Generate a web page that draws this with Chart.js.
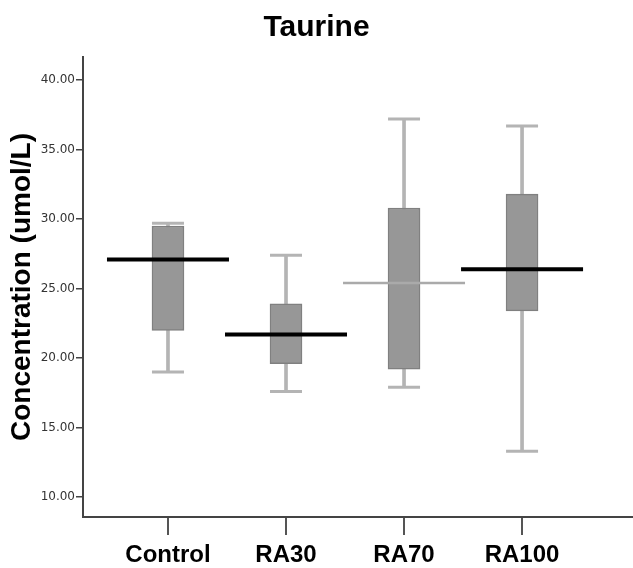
<!DOCTYPE html>
<html>
<head>
<meta charset="utf-8">
<script src="https://cdn.jsdelivr.net/npm/chart.js@4"></script>
<style>
  body { margin: 0; background: #fff; }
</style>
</head>
<body>
<canvas id="myChart" width="633" height="568"></canvas>
<script>
// categorias e valores
var categories = ['Control', 'RA30', 'RA70', 'RA100'];
var whiskerLow = [19.0, 17.6, 17.9, 13.3];
var q1 = [22.0, 19.6, 19.2, 23.4];
var median = [27.1, 21.7, 25.4, 26.4];
var q3 = [29.5, 23.9, 30.8, 31.8];
var whiskerHigh = [29.7, 27.4, 37.2, 36.7];
var yTicks = [10, 15, 20, 25, 30, 35, 40];

var medianColors = ['#000000', '#000000', '#aaaaaa', '#000000'];
var medianWidths = [4, 4, 2.5, 4];

var idx = categories.map(function (c, i) { return i; });

var ctx = document.getElementById('myChart').getContext('2d');

var myChart = new Chart(ctx, {
  data: {
    datasets: [
      {
        // medianas
        type: 'scatter',
        data: idx.map(function (i) { return { x: i, y: median[i] }; }),
        pointStyle: 'line',
        radius: 61,
        borderColor: medianColors,
        borderWidth: medianWidths,
        order: 0
      },
      {
        // caixas (q1 - q3)
        type: 'bar',
        data: idx.map(function (i) { return { x: i, y: [q1[i], q3[i]] }; }),
        backgroundColor: '#979797',
        borderColor: '#808080',
        borderWidth: 1.5,
        borderSkipped: false,
        barThickness: 32,
        order: 1
      },
      {
        // caps dos bigodes
        type: 'scatter',
        data: idx.map(function (i) { return { x: i, y: whiskerLow[i] }; })
          .concat(idx.map(function (i) { return { x: i, y: whiskerHigh[i] }; })),
        pointStyle: 'line',
        radius: 16,
        borderColor: '#b4b4b4',
        borderWidth: 3,
        order: 2
      },
      {
        // bigodes
        type: 'bar',
        data: idx.map(function (i) { return { x: i, y: [whiskerLow[i], whiskerHigh[i]] }; }),
        backgroundColor: '#b4b4b4',
        borderWidth: 0,
        barThickness: 3,
        grouped: false,
        order: 3
      }
    ]
  },
  options: {
    responsive: false,
    animation: false,
    layout: { padding: 0, autoPadding: false },
    plugins: {
      legend: { display: false },
      tooltip: { enabled: false },
      title: {
        display: true,
        text: 'Taurine',
        color: '#000',
        font: { family: 'Liberation Sans', size: 30, weight: 'bold' },
        padding: { top: 10, bottom: 11 }
      }
    },
    scales: {
      x: {
        type: 'linear',
        min: -0.72,
        max: 3.94,
        offset: false,
        afterBuildTicks: function (scale) {
          scale.ticks = idx.map(function (i) { return { value: i }; });
        },
        afterFit: function (scale) {
          scale.height = 51;
          scale.paddingLeft = 0;
          scale.paddingRight = 0;
        },
        ticks: {
          color: '#000',
          padding: 6,
          font: { family: 'Liberation Sans', size: 24, weight: 'bold' },
          callback: function (v) { return categories[v]; }
        },
        grid: { display: true, offset: false, drawOnChartArea: false, drawTicks: true, tickLength: 18, color: '#555', lineWidth: 2 },
        border: { display: true, color: '#444', width: 2 }
      },
      y: {
        type: 'linear',
        min: 8.57,
        max: 41.66,
        afterBuildTicks: function (scale) {
          scale.ticks = yTicks.map(function (v) { return { value: v }; });
        },
        afterFit: function (scale) {
          scale.width = 83;
          scale.paddingTop = 0;
          scale.paddingBottom = 0;
        },
        ticks: {
          color: '#333',
          padding: 1,
          font: { family: 'DejaVu Sans', size: 12 },
          callback: function (v) { return v.toFixed(2); }
        },
        grid: { display: true, drawOnChartArea: false, drawTicks: true, tickLength: 7, color: '#444', lineWidth: 1.5 },
        border: { display: true, color: '#444', width: 2 },
        title: {
          display: true,
          text: 'Concentration (umol/L)',
          color: '#000',
          font: { family: 'Liberation Sans', size: 28, weight: 'bold' },
          padding: { top: 5, bottom: 0 }
        }
      }
    }
  }
});
</script>
</body>
</html>
